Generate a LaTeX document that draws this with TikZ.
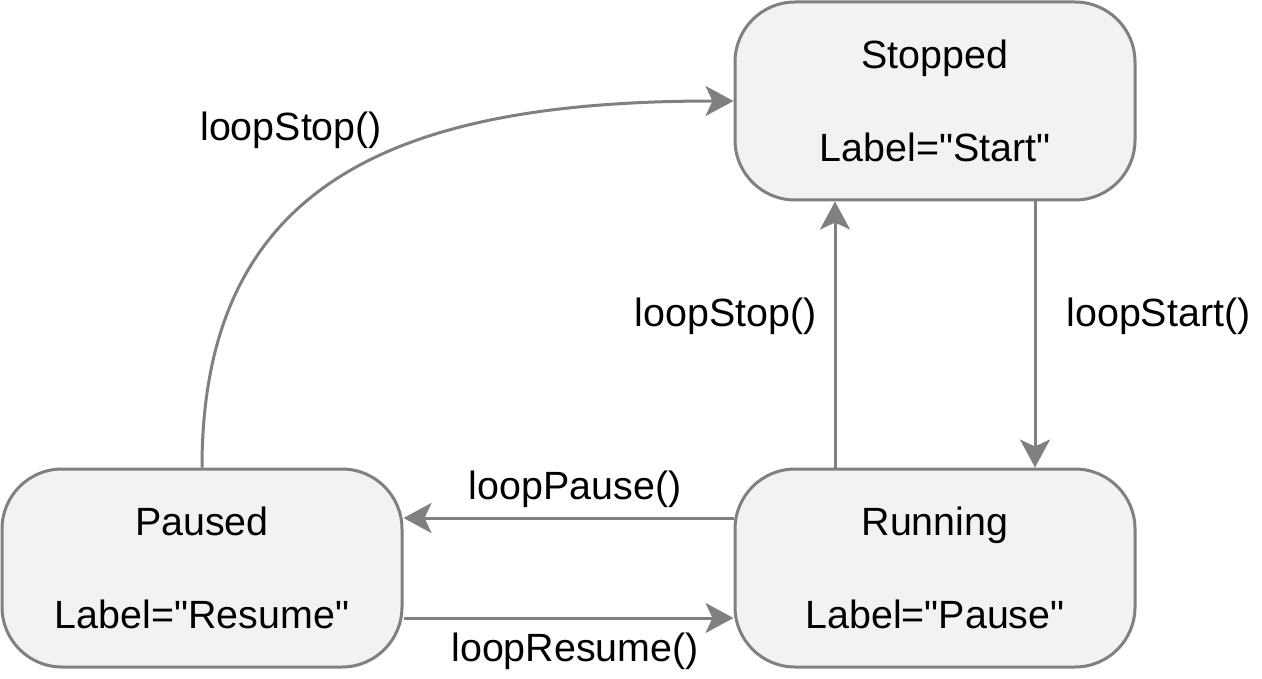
\documentclass[tikz,border=0pt]{standalone}
\usepackage{fontspec}
\setmainfont[Ligatures=TeXOff]{Liberation Sans}
\usetikzlibrary{arrows.meta}
\definecolor{linegray}{HTML}{808080}
\definecolor{boxgray}{HTML}{F2F2F2}

\begin{document}
\begin{tikzpicture}[x=0.5pt, y=-0.5pt,
  state/.style={draw=linegray, fill=boxgray, line width=1.5pt, rounded corners=30pt,
    minimum width=200pt, minimum height=99pt, align=center, inner sep=0pt,
    font=\fontsize{19.7}{23.25}\selectfont},
  trans/.style={draw=linegray, line width=1.5pt,
    -{Stealth[length=14pt, width=15pt, inset=3.5pt]}},
  lbl/.style={inner sep=0pt, font=\fontsize{19.7}{23.25}\selectfont}]

\useasboundingbox (0,0) rectangle (1262,679);

% Estados
\node[state] (stopped) at (935,101) {Stopped\\[23.25pt]Label="Start"};
\node[state] (running) at (935,568) {Running\\[23.25pt]Label="Pause"};
\node[state] (paused) at (202,568) {Paused\\[23.25pt]Label="Resume"};

% Transiciones
\draw[trans] ([xshift=50pt]stopped.south) --
	node[lbl, pos=0.43, right=15pt] {loopStart()} ([xshift=50pt]running.north);
\draw[trans] ([xshift=-50pt]running.north) --
	node[lbl, pos=0.57, left=8.5pt] {loopStop()} ([xshift=-50pt]stopped.south);
\draw[trans] ([yshift=25pt]running.west) --
	node[lbl, pos=0.48, yshift=14.5pt] {loopPause()} ([yshift=25pt]paused.east);
\draw[trans] ([yshift=-25pt]paused.east) --
	node[lbl, pos=0.52, yshift=-16.5pt] {loopResume()} ([yshift=-25pt]running.west);
\draw[trans] (paused.north) .. controls (202,180) and (400,101) ..
	node[lbl, pos=0.5, xshift=-25.75pt, yshift=23.25pt] {loopStop()} (stopped.west);
\end{tikzpicture}
\end{document}
